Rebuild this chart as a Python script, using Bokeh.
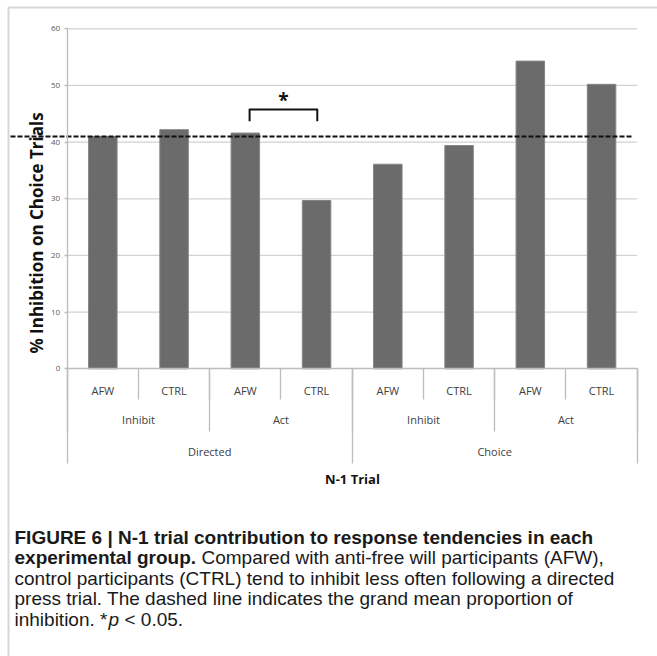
from bokeh.plotting import figure
from bokeh.models import Range1d, LinearAxis, FixedTicker, BoxAnnotation
from bokeh.core.properties import value
from bokeh.embed import file_html
from bokeh.resources import INLINE

# ---- data -------------------------------------------------------------
groups = ["AFW", "CTRL", "AFW", "CTRL", "AFW", "CTRL", "AFW", "CTRL"]
responses = ["Inhibit", "Act", "Inhibit", "Act"]
trial_types = ["Directed", "Choice"]
inhibition_pct = [41.0, 42.2, 41.6, 29.7, 36.1, 39.4, 54.3, 50.2]
grand_mean = 41.0
y_ticks = [0, 10, 20, 30, 40, 50, 60]

y_title = "% Inhibition on Choice Trials"
x_title = "N-1 Trial"

# ---- page geometry (pixels) ------------------------------------------
W, H = 657, 656
AXIS_X_PX = 66.7          # left edge of the first category
CAT_W_PX = 71.25          # width of one category slot
ZERO_Y_PX = 368.3         # pixel row of 0 %
PX_PER_UNIT = 340.0 / 60  # pixels per percentage point


def xpx(px):
    return (px - AXIS_X_PX) / CAT_W_PX


def ypx(py):
    return (ZERO_Y_PX - py) / PX_PER_UNIT


CHART_FONT = "Open Sans"
CAPTION_FONT = "Liberation Sans"
LINE_GREY = "#bdbdbd"
GRID_GREY = "#d2d2d2"
BAR_GREY = "#6b6b6b"
LABEL_GREY = "#404040"

p = figure(
    width=W, height=H, title=None, toolbar_location=None,
    output_backend="svg", x_axis_type=None, y_axis_type=None,
    x_range=Range1d(xpx(0), xpx(W)), y_range=Range1d(ypx(H), ypx(0)),
    min_border=0, min_border_left=0, min_border_right=0,
    min_border_top=0, min_border_bottom=0,
)
p.outline_line_color = None
p.background_fill_color = "white"
p.border_fill_color = "white"

n = len(inhibition_pct)
centers = [i + 0.5 for i in range(n)]

# horizontal gridlines
grid_vals = y_ticks[1:]
p.segment(x0=[0] * len(grid_vals), x1=[n] * len(grid_vals),
          y0=grid_vals, y1=grid_vals, line_color=GRID_GREY, line_width=1.2)

# bars
p.vbar(x=centers, top=inhibition_pct, bottom=0, width=0.4,
       fill_color=BAR_GREY, line_color="#858585", line_width=1)

# grand mean (dashed)
p.line(x=[xpx(10), xpx(633)], y=[grand_mean, grand_mean],
       line_color="#111111", line_width=2, line_dash="5 2")

# significance bracket between Directed/Act AFW and CTRL
br_left, br_right = centers[2] + 0.06, centers[3] + 0.01
br_low, br_high = 43.7, 45.75
p.line(x=[br_left, br_left, br_right, br_right],
       y=[br_low, br_high, br_high, br_low],
       line_color="#111111", line_width=2, line_join="round")
p.text(x=[(br_left + br_right) / 2], y=[ypx(99)], text=["*"],
       text_font=value(CHART_FONT), text_font_size="19px",
       text_font_style="bold",
       text_color="#111111", text_align="center", text_baseline="alphabetic")

# ---- y axis -----------------------------------------------------------
yaxis = LinearAxis(
    fixed_location=0, bounds=(0, 60), ticker=FixedTicker(ticks=y_ticks),
    major_tick_out=3, major_tick_in=0, minor_tick_out=0, minor_tick_in=0,
    axis_line_color=LINE_GREY, axis_line_width=1.3,
    major_tick_line_color=LINE_GREY, major_tick_line_width=1.3,
    major_label_text_font=CHART_FONT, major_label_text_font_size="8px",
    major_label_text_color="#595959", major_label_standoff=4,
)
p.add_layout(yaxis, "left")

p.text(x=[xpx(36)], y=[ypx(232.5)], text=[y_title], angle=1.5707963,
       text_font=value(CHART_FONT), text_font_size="17px",
       text_font_style="bold", text_color="#111111",
       text_align="center", text_baseline="middle")

# ---- x axis: line plus three tiers of separators ----------------------
tier_ticks = [list(range(0, n + 1, 1)), list(range(0, n + 1, 2)),
              list(range(0, n + 1, 4))]
tier_len = [31, 63, 95]
for k, (ticks, length) in enumerate(zip(tier_ticks, tier_len)):
    ax = LinearAxis(
        fixed_location=0, bounds=(0, n), ticker=FixedTicker(ticks=ticks),
        major_tick_out=length, major_tick_in=0,
        minor_tick_out=0, minor_tick_in=0,
        axis_line_color=LINE_GREY if k == 0 else None, axis_line_width=1.3,
        major_tick_line_color=LINE_GREY, major_tick_line_width=1.3,
        major_label_text_color=None,
    )
    p.add_layout(ax, "below")

# category labels, one axis per tier
tier_labels = [groups, responses, trial_types]
tier_standoff = [14, 43, 75]
for k, (labels, standoff) in enumerate(zip(tier_labels, tier_standoff)):
    span = n / len(labels)
    pos = [span * (i + 0.5) for i in range(len(labels))]
    ax = LinearAxis(
        fixed_location=0, bounds=(0, n), ticker=FixedTicker(ticks=pos),
        major_label_overrides={t: lab for t, lab in zip(pos, labels)},
        major_tick_out=0, major_tick_in=0, minor_tick_out=0, minor_tick_in=0,
        axis_line_color=None, major_tick_line_color=None,
        major_label_text_font=CHART_FONT, major_label_text_font_size="11px",
        major_label_text_color=LABEL_GREY, major_label_standoff=standoff,
    )
    if k == 2:
        ax.axis_label = x_title
        ax.axis_label_text_font = CHART_FONT
        ax.axis_label_text_font_size = "13px"
        ax.axis_label_text_font_style = "bold"
        ax.axis_label_text_color = "#111111"
        ax.axis_label_standoff = 8
    p.add_layout(ax, "below")

# ---- frame around figure and caption ---------------------------------
p.add_layout(BoxAnnotation(left=xpx(8), right=xpx(W + 40), top=ypx(7),
                           bottom=ypx(H + 40), fill_alpha=0,
                           line_color="#777777", line_width=2))

# ---- caption ----------------------------------------------------------
CAP_X = 14
CAP_SIZE = "19px"
caption_runs = [
    # (x px, baseline px, text, style)
    (CAP_X, 536.5, "FIGURE 6 | N-1 trial contribution to response tendencies in each", "bold"),
    (CAP_X, 557.0, "experimental group.", "bold"),
    (CAP_X + 187, 557.0, "Compared with anti-free will participants (AFW),", "normal"),
    (CAP_X, 577.5, "control participants (CTRL) tend to inhibit less often following a directed", "normal"),
    (CAP_X, 598.0, "press trial. The dashed line indicates the grand mean proportion of", "normal"),
    (CAP_X, 618.5, "inhibition. *", "normal"),
    (CAP_X + 94, 618.5, "p", "italic"),
    (CAP_X + 110, 618.5, "< 0.05.", "normal"),
]
for x0, base, txt, style in caption_runs:
    p.text(x=[xpx(x0)], y=[ypx(base)], text=[txt],
           text_font=value(CAPTION_FONT), text_font_size=CAP_SIZE,
           text_font_style=style, text_color="#1a1a1a",
           text_align="left", text_baseline="alphabetic")

open("out.html", "w").write(file_html(p, INLINE))
